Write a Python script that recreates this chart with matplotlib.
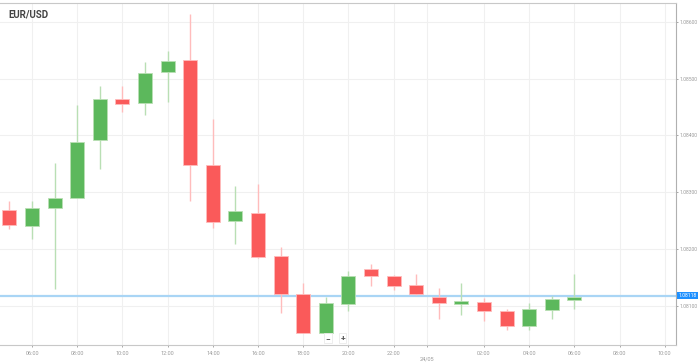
import matplotlib.pyplot as plt
from matplotlib.patches import Rectangle

plt.rcParams["font.family"] = ["Roboto", "DejaVu Sans"]

# hourly candles, 23/05 05:00 -> 24/05 06:00 (hours counted from 23/05 00:00)
hours = list(range(5, 31))
opens = [1.08269, 1.08241, 1.08273, 1.08289, 1.08391, 1.08464, 1.08457, 1.08512, 1.08533,
         1.08347, 1.08250, 1.08264, 1.08188, 1.08121, 1.08053, 1.08104, 1.08164, 1.08153,
         1.08137, 1.08116, 1.08104, 1.08107, 1.08090, 1.08065, 1.08093, 1.08111]
closes = [1.08243, 1.08273, 1.08290, 1.08389, 1.08464, 1.08456, 1.08510, 1.08531, 1.08347,
          1.08248, 1.08266, 1.08186, 1.08121, 1.08053, 1.08105, 1.08153, 1.08153, 1.08135,
          1.08120, 1.08105, 1.08109, 1.08090, 1.08065, 1.08095, 1.08112, 1.08116]
highs = [1.08285, 1.08285, 1.08352, 1.08454, 1.08487, 1.08487, 1.08530, 1.08549, 1.08614,
         1.08429, 1.08310, 1.08315, 1.08204, 1.08141, 1.08116, 1.08162, 1.08174, 1.08155,
         1.08156, 1.08132, 1.08141, 1.08114, 1.08095, 1.08105, 1.08118, 1.08156]
lows = [1.08236, 1.08218, 1.08130, 1.08289, 1.08340, 1.08442, 1.08435, 1.08459, 1.08285,
        1.08237, 1.08209, 1.08185, 1.08088, 1.08052, 1.08052, 1.08090, 1.08134, 1.08127,
        1.08119, 1.08077, 1.08083, 1.08074, 1.08058, 1.08058, 1.08077, 1.08095]
current_price = 1.08118

y_ticks = [1.081, 1.082, 1.083, 1.084, 1.085, 1.086]
x_ticks = [6, 8, 10, 12, 14, 16, 18, 20, 22, 26, 28, 30, 32, 34]
x_labels = ["06:00", "08:00", "10:00", "12:00", "14:00", "16:00", "18:00", "20:00",
            "22:00", "02:00", "04:00", "06:00", "08:00", "10:00"]
day_pos = 23.5
day_label = "24/05"

up_body, up_wick = "#5cb85c", "#b9dfb4"
dn_body, dn_wick = "#fa5a5a", "#ffbcbc"

fig = plt.figure(figsize=(6.99, 3.63), dpi=100)
ax = fig.add_axes([0, 18 / 363, 676 / 699, 342 / 363])
ax.set_xlim(4.58, 34.5)
ax.set_ylim(1.08031, 1.08633)

for x in x_ticks + [day_pos]:
    ax.axvline(x, color="#f0f0f0", lw=0.8, zorder=0)
for y in y_ticks:
    ax.axhline(y, color="#f0f0f0", lw=0.8, zorder=0)

w = 0.62
for h, o, c, hi, lo in zip(hours, opens, closes, highs, lows):
    up = c >= o
    body = up_body if up else dn_body
    wick = up_wick if up else dn_wick
    ax.vlines(h, lo, hi, color=wick, lw=1.0, zorder=2)
    ax.add_patch(Rectangle((h - w / 2, min(o, c)), w, max(abs(c - o), 0.000012),
                           facecolor=body, edgecolor=wick, lw=0.6, zorder=3))

ax.axhline(current_price, color="#a9d5f5", lw=1.6, zorder=1)

ax.spines["left"].set_visible(False)
for s in ["right", "bottom", "top"]:
    ax.spines[s].set_color("#c8c8c8")
ax.spines["right"].set_color("#b0b0b0")

ax.yaxis.tick_right()
ax.set_yticks(y_ticks)
ax.set_yticklabels([f"{v:.5f}" for v in y_ticks])
ax.set_xticks(x_ticks + [day_pos])
ax.set_xticklabels(x_labels + [""])
ax.tick_params(axis="both", labelsize=3.6, colors="#9a9a9a", length=1.5, width=0.6, pad=1)
ax.tick_params(axis="x", labelsize=4, pad=2.5)

ax.text(day_pos, -0.04, day_label, transform=ax.get_xaxis_transform(),
        fontsize=4, color="#9a9a9a", ha="center", va="center")

ax.annotate(f"{current_price:.5f}", xy=(1.0, current_price),
            xycoords=("axes fraction", "data"), xytext=(1.6, 0), textcoords="offset points",
            fontsize=3.6, color="white", va="center", ha="left",
            bbox=dict(boxstyle="square,pad=0.25", fc="#1e90ff", ec="none"))

ax.text(8 / 676, 0.965, "EUR/USD", transform=ax.transAxes, fontsize=7,
        fontweight="bold", color="#444444", va="center", ha="left")

# zoom buttons
for x, s in [(19.1, "\u2212"), (19.75, "+")]:
    ax.text(x, 1.08043, s, fontsize=6, fontweight="bold", color="#555555",
            ha="center", va="center",
            bbox=dict(boxstyle="square,pad=0.15", fc="white", ec="#e6e6e6", lw=0.5))

fig.savefig("out.png", dpi=100)
